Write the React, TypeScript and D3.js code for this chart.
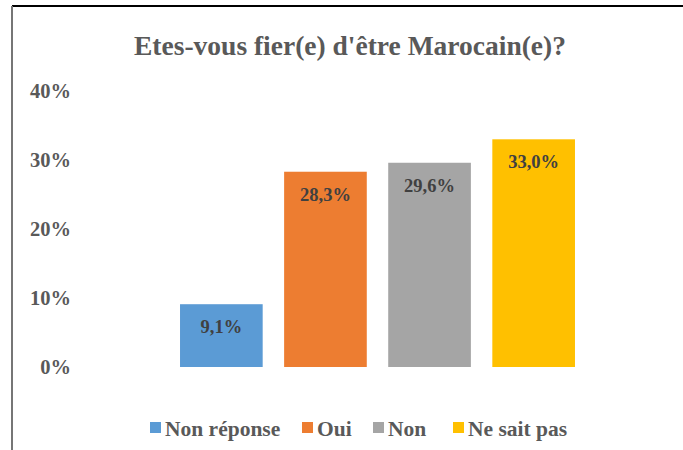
import React, { useEffect, useRef } from "react";
import * as d3 from "d3";

const categories = ["Non réponse", "Oui", "Non", "Ne sait pas"];
const values = [9.1, 28.3, 29.6, 33.0];
const colors = ["#5B9BD5", "#ED7D31", "#A5A5A5", "#FFC000"];
const yTicks = [0, 10, 20, 30, 40];
const title = "Etes-vous fier(e) d'être Marocain(e)?";

const App = () => {
  const svgRef = useRef<SVGSVGElement>(null);

  useEffect(() => {
    const width = 683, height = 450;
    const font = "'Liberation Serif', 'Times New Roman', serif";

    const svg = d3.select(svgRef.current)
      .attr("width", width)
      .attr("height", height)
      .style("background", "#fff");
    svg.selectAll("*").remove();

    // frame
    svg.append("line")
      .attr("x1", 12).attr("x2", width)
      .attr("y1", 6).attr("y2", 6)
      .attr("stroke", "#000").attr("stroke-width", 2);
    svg.append("line")
      .attr("x1", 12).attr("x2", 12)
      .attr("y1", 6).attr("y2", height)
      .attr("stroke", "#767676").attr("stroke-width", 2);

    const x = d3.scaleBand()
      .domain(categories)
      .range([169.3, 585.7])
      .paddingInner(0.206)
      .paddingOuter(0.103);

    const y = d3.scaleLinear()
      .domain([0, 40])
      .range([367, 91]);

    svg.append("text")
      .attr("x", 350)
      .attr("y", 55)
      .attr("text-anchor", "middle")
      .attr("font-family", font)
      .attr("font-weight", "bold")
      .attr("font-size", "27.5px")
      .attr("fill", "#595959")
      .text(title);

    svg.append("g")
      .selectAll("text")
      .data(yTicks)
      .enter().append("text")
      .attr("x", 71)
      .attr("y", d => y(d))
      .attr("dy", "0.35em")
      .attr("text-anchor", "end")
      .attr("font-family", font)
      .attr("font-weight", "bold")
      .attr("font-size", "20.5px")
      .attr("fill", "#595959")
      .text(d => d + "%");

    svg.append("g")
      .selectAll("rect")
      .data(values)
      .enter().append("rect")
      .attr("x", (d, i) => x(categories[i])!)
      .attr("y", d => y(d))
      .attr("width", x.bandwidth())
      .attr("height", d => y(0) - y(d))
      .attr("fill", (d, i) => colors[i]);

    svg.append("g")
      .selectAll("text")
      .data(values)
      .enter().append("text")
      .attr("x", (d, i) => x(categories[i])! + x.bandwidth() / 2)
      .attr("y", d => y(d) + 29)
      .attr("text-anchor", "middle")
      .attr("font-family", font)
      .attr("font-weight", "bold")
      .attr("font-size", "18.5px")
      .attr("fill", "#404040")
      .text(d => d.toFixed(1).replace(".", ",") + "%");

    // legend
    const legendX = [150, 302, 373, 453];
    const legend = svg.append("g")
      .selectAll("g")
      .data(categories)
      .enter().append("g")
      .attr("transform", (d, i) => `translate(${legendX[i]}, 0)`);
    legend.append("rect")
      .attr("x", 0)
      .attr("y", 422)
      .attr("width", 11)
      .attr("height", 11)
      .attr("fill", (d, i) => colors[i]);
    legend.append("text")
      .attr("x", 15)
      .attr("y", 436)
      .attr("font-family", font)
      .attr("font-weight", "bold")
      .attr("font-size", "21.5px")
      .attr("fill", "#595959")
      .text(d => d);
  }, []);

  return (
    <svg ref={svgRef} style={{ position: "absolute", left: 0, top: 0 }}></svg>
  );
};

export default App;
